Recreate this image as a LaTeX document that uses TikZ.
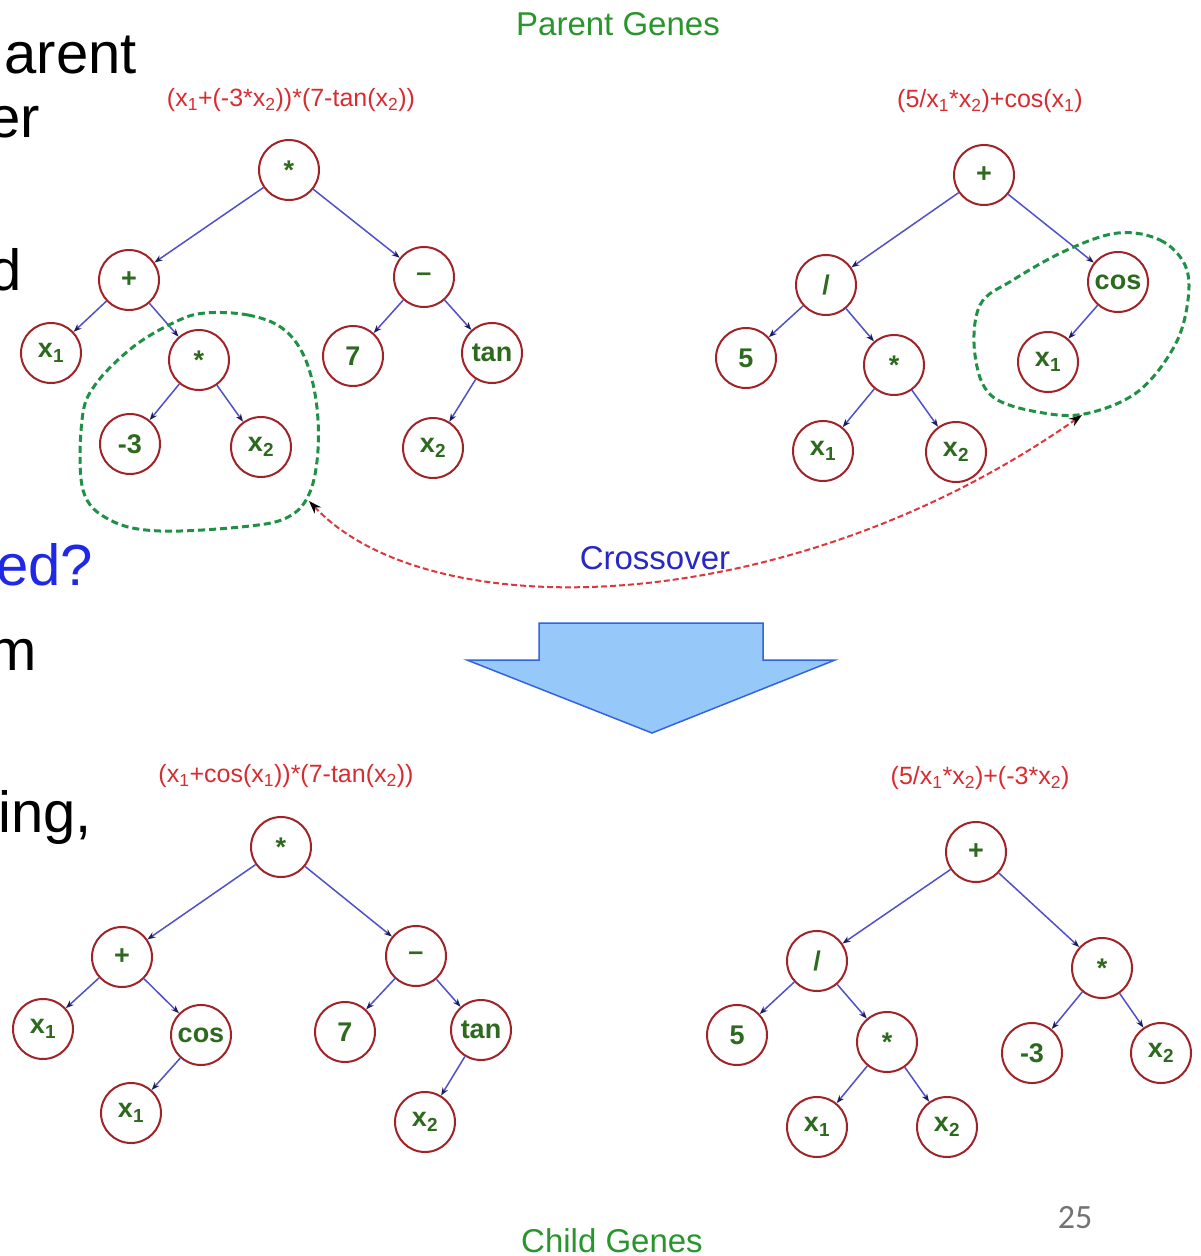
\documentclass[tikz,border=0pt]{standalone}
\usepackage{fontspec}
\setmainfont{Liberation Sans}
\newfontfamily\pagenofont{Carlito}
\usetikzlibrary{arrows.meta}
\definecolor{ringred}{RGB}{160,35,40}
\definecolor{txtgreen}{RGB}{45,105,30}
\definecolor{edgeblue}{RGB}{80,80,200}
\definecolor{tipblue}{RGB}{30,30,90}
\definecolor{blobgreen}{RGB}{30,145,70}
\definecolor{crossred}{RGB}{220,55,60}
\definecolor{formred}{RGB}{215,45,50}
\definecolor{titlegreen}{RGB}{40,150,45}
\definecolor{crossblue}{RGB}{40,40,195}
\definecolor{qblue}{RGB}{30,40,230}
\definecolor{arrfill}{RGB}{150,200,250}
\definecolor{arrline}{RGB}{50,100,220}
\newcommand\xs[1]{x\textsubscript{#1}}
\newcommand\mystar{\raisebox{-0.3em}{*}}
\tikzset{
  gn/.style={circle, draw=ringred, line width=2pt, minimum size=60pt, inner sep=0pt,
    text=txtgreen, font=\bfseries\fontsize{27}{27}\selectfont},
  edge/.style={draw=edgeblue, line width=1.5pt, -{Stealth[length=8pt,width=6pt,color=tipblue]}},
  blob/.style={draw=blobgreen, line width=3pt, dash pattern=on 7pt off 4pt},
  form/.style={text=formred, font=\fontsize{25}{25}\selectfont, inner sep=0pt},
  title/.style={text=titlegreen, font=\fontsize{33}{33}\selectfont, inner sep=0pt},
  side/.style={font=\fontsize{58}{58}\selectfont, inner sep=0pt, anchor=base east}
}
\begin{document}
\begin{tikzpicture}[x=1pt,y=-1pt]
\useasboundingbox (0,0) rectangle (1201,1256);
\clip (0,0) rectangle (1201,1256);
\fill[white] (0,0) rectangle (1201,1256);

% side text (cut off at the left edge, as in the reference)
\node[side] (s1) at (137,73) {arent};
\node[side] (s2) at (40,137) {er};
\node[side] (s3) at (22,290) {d};
\node[side, text=qblue] (s4) at (93,585) {ed?};
\node[side] (s5) at (37,670) {m};
\node[side] (s6) at (92,832) {ing,};

% titles
\node[title] (pg) at (618,24) {Parent Genes};
\node[title] (cg) at (612,1241) {Child Genes};
\node[text=black!55, font=\pagenofont\fontsize{34}{34}\selectfont, inner sep=0pt] (pn) at (1075,1218) {25};

% formulas
\node[form] (f1) at (291,100) {(\xs1+(-3*\xs2))*(7-tan(\xs2))};
\node[form] (f2) at (990,101) {(5/\xs1*\xs2)+cos(\xs1)};
\node[form] (f3) at (286,776) {(\xs1+cos(\xs1))*(7-tan(\xs2))};
\node[form] (f4) at (980,778) {(5/\xs1*\xs2)+(-3*\xs2)};

% ---------- Parent 1 ----------
\node[gn] (a0) at (289,170) {\mystar};
\node[gn] (a1) at (129,280) {+};
\node[gn] (a2) at (424,277) {–};
\node[gn] (a3) at (51,353) {\xs1};
\node[gn] (a4) at (199,360) {\mystar};
\node[gn] (a5) at (353,356) {7};
\node[gn] (a6) at (492,353) {tan};
\node[gn] (a7) at (130,444) {-3};
\node[gn] (a8) at (261,447) {\xs2};
\node[gn] (a9) at (433,448) {\xs2};
\foreach \p/\c in {a0/a1,a0/a2,a1/a3,a1/a4,a2/a5,a2/a6,a4/a7,a4/a8,a6/a9}
  \draw[edge] (\p) -- (\c);

% ---------- Parent 2 ----------
\node[gn] (b0) at (984,175) {+};
\node[gn] (b1) at (826,285) {/};
\node[gn] (b2) at (1118,282) {cos};
\node[gn] (b3) at (746,358) {5};
\node[gn] (b4) at (894,365) {\mystar};
\node[gn] (b5) at (1048,362) {\xs1};
\node[gn] (b6) at (823,451) {\xs1};
\node[gn] (b7) at (956,452) {\xs2};
\foreach \p/\c in {b0/b1,b0/b2,b1/b3,b1/b4,b2/b5,b4/b6,b4/b7}
  \draw[edge] (\p) -- (\c);

% ---------- Child 1 ----------
\node[gn] (c0) at (281,847) {\mystar};
\node[gn] (c1) at (122,957) {+};
\node[gn] (c2) at (416,956) {–};
\node[gn] (c3) at (43,1029) {\xs1};
\node[gn] (c4) at (201,1035) {cos};
\node[gn] (c5) at (345,1032) {7};
\node[gn] (c6) at (481,1030) {tan};
\node[gn] (c7) at (131,1113) {\xs1};
\node[gn] (c8) at (425,1122) {\xs2};
\foreach \p/\c in {c0/c1,c0/c2,c1/c3,c1/c4,c2/c5,c2/c6,c4/c7,c6/c8}
  \draw[edge] (\p) -- (\c);

% ---------- Child 2 ----------
\node[gn] (d0) at (976,852) {+};
\node[gn] (d1) at (817,961) {/};
\node[gn] (d2) at (1102,968) {\mystar};
\node[gn] (d3) at (737,1035) {5};
\node[gn] (d4) at (887,1042) {\mystar};
\node[gn] (d5) at (1032,1053) {-3};
\node[gn] (d6) at (1161,1053) {\xs2};
\node[gn] (d7) at (817,1127) {\xs1};
\node[gn] (d8) at (947,1127) {\xs2};
\foreach \p/\c in {d0/d1,d0/d2,d1/d3,d1/d4,d2/d5,d2/d6,d4/d7,d4/d8}
  \draw[edge] (\p) -- (\c);

% green selection blobs
\draw[blob] plot[smooth cycle, tension=0.6] coordinates {(205,313) (248,315) (282,328) (304,356) (316,400) (318,450) (310,492) (290,516) (250,526) (160,531) (110,520) (83,490) (82,420) (95,385) (133,347) (175,322)};
\draw[blob] plot[smooth cycle, tension=0.6] coordinates {(1118,233) (1160,240) (1185,265) (1188,300) (1175,345) (1140,390) (1093,412) (1050,414) (993,397) (975,355) (980,305) (1013,280) (1067,250)};

% crossover arrow
\coordinate (lb) at (309,501);
\coordinate (rb) at (1082,415);
\draw[draw=crossred, line width=2pt, dash pattern=on 6pt off 3pt,
  {Stealth[length=13pt,width=9pt,color=black]}-{Stealth[length=13pt,width=9pt,color=black]}]
  (lb) .. controls (430,630) and (790,620) .. (rb);
\node[text=crossblue, font=\fontsize{33}{33}\selectfont, inner sep=0pt] (cx) at (655,558) {Crossover};

% big down arrow
\filldraw[fill=arrfill, draw=arrline, line width=1.5pt]
  (539,623) -- (763,623) -- (763,660) -- (835,660) -- (652,733) -- (467,660) -- (539,660) -- cycle;
\end{tikzpicture}
\end{document}
